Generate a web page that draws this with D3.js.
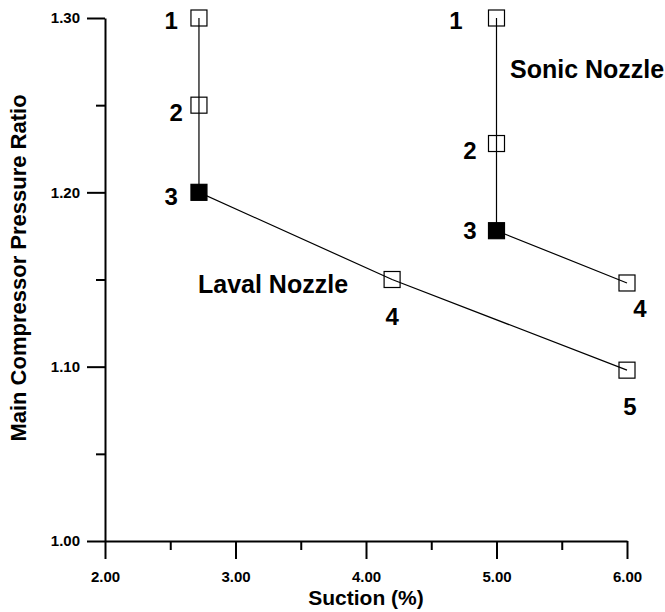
<!DOCTYPE html>
<html>
<head>
<meta charset="utf-8">
<script src="https://cdn.jsdelivr.net/npm/d3@7"></script>
<style>
  body { margin: 0; background: #fff; }
  text { font-family: "Liberation Sans", Arial, sans-serif; font-weight: bold; fill: #000; }
</style>
</head>
<body>
<div class="canvas-graph"></div>
<script>
// data
const lavalSuction = [2.72, 2.72, 2.72, 4.2, 6.0];
const lavalRatio = [1.30, 1.25, 1.20, 1.15, 1.098];
const lavalLabels = ['1', '2', '3', '4', '5'];

const sonicSuction = [5.0, 5.0, 5.0, 6.0];
const sonicRatio = [1.30, 1.228, 1.178, 1.148];
const sonicLabels = ['1', '2', '3', '4'];

const filledPoint = '3';

const xMajor = [2, 3, 4, 5, 6];
const xMinor = [2.5, 3.5, 4.5, 5.5];
const yMajor = [1.0, 1.1, 1.2, 1.3];
const yMinor = [1.05, 1.15, 1.25];

const dims = { width: 665, height: 612 };
const margin = { left: 105, right: 38, top: 18, bottom: 71 };

const svg = d3.select('.canvas-graph')
    .append('svg')
    .attr('width', dims.width)
    .attr('height', dims.height);

const x = d3.scaleLinear()
    .domain([2, 6])
    .range([margin.left, dims.width - margin.right]);

const y = d3.scaleLinear()
    .domain([1.0, 1.3])
    .range([dims.height - margin.bottom, margin.top]);

const fmt = d3.format('.2f');

// axes
const styleAxis = g => {
    g.attr('font-size', null).attr('font-family', null);
    g.selectAll('path, line').attr('stroke', '#000').attr('stroke-width', 2);
    g.selectAll('text').style('font-size', '15px');
};

svg.append('g')
    .attr('transform', `translate(${margin.left}, 0)`)
    .call(d3.axisLeft(y).tickValues(yMajor).tickSize(18).tickSizeOuter(0).tickPadding(7).tickFormat(fmt))
    .call(styleAxis);

svg.append('g')
    .attr('transform', `translate(${margin.left}, 0)`)
    .call(d3.axisLeft(y).tickValues(yMinor).tickSize(9).tickSizeOuter(0).tickFormat(''))
    .call(styleAxis)
    .select('.domain').remove();

svg.append('g')
    .attr('transform', `translate(0, ${y(1.0)})`)
    .call(d3.axisBottom(x).tickValues(xMajor).tickSize(18).tickSizeOuter(0).tickPadding(12).tickFormat(fmt))
    .call(styleAxis);

svg.append('g')
    .attr('transform', `translate(0, ${y(1.0)})`)
    .call(d3.axisBottom(x).tickValues(xMinor).tickSize(9).tickSizeOuter(0).tickFormat(''))
    .call(styleAxis)
    .select('.domain').remove();

// axis titles
svg.append('text')
    .attr('x', 366)
    .attr('y', 605)
    .attr('text-anchor', 'middle')
    .style('font-size', '21px')
    .text('Suction (%)');

svg.append('text')
    .attr('transform', `translate(26, 268) rotate(-90)`)
    .attr('text-anchor', 'middle')
    .style('font-size', '22px')
    .text('Main Compressor Pressure Ratio');

// series
const line = d3.line().x(d => x(d.s)).y(d => y(d.r));
const series = [
    { name: 'laval', pts: lavalSuction.map((s, i) => ({ s, r: lavalRatio[i], label: lavalLabels[i] })) },
    { name: 'sonic', pts: sonicSuction.map((s, i) => ({ s, r: sonicRatio[i], label: sonicLabels[i] })) }
];

// label offsets (dx, dy of baseline, anchor) per series
const labelOffsets = {
    laval: [[-21, 11, 'end'], [-16, 16, 'end'], [-21, 13, 'end'], [0, 45, 'middle'], [3, 45, 'middle']],
    sonic: [[-34, 11, 'end'], [-20, 15, 'end'], [-20, 8, 'end'], [13, 34, 'middle']]
};

const sq = 16;
series.forEach(sr => {
    svg.append('path')
        .datum(sr.pts)
        .attr('d', line)
        .attr('fill', 'none')
        .attr('stroke', '#000')
        .attr('stroke-width', 1.2);

    svg.selectAll(`rect.${sr.name}`)
        .data(sr.pts)
        .enter()
        .append('rect')
        .attr('class', sr.name)
        .attr('x', d => x(d.s) - sq / 2)
        .attr('y', d => y(d.r) - sq / 2)
        .attr('width', sq)
        .attr('height', sq)
        .attr('fill', d => d.label === filledPoint ? '#000' : 'none')
        .attr('stroke', '#000')
        .attr('stroke-width', 1.2);

    svg.selectAll(`text.${sr.name}`)
        .data(sr.pts)
        .enter()
        .append('text')
        .attr('class', sr.name)
        .attr('x', (d, i) => x(d.s) + labelOffsets[sr.name][i][0])
        .attr('y', (d, i) => y(d.r) + labelOffsets[sr.name][i][1])
        .attr('text-anchor', (d, i) => labelOffsets[sr.name][i][2])
        .style('font-size', '24px')
        .text(d => d.label);
});

// series names
svg.append('text')
    .attr('x', 510)
    .attr('y', 78)
    .style('font-size', '25px')
    .text('Sonic Nozzle');

svg.append('text')
    .attr('x', 198)
    .attr('y', 293)
    .style('font-size', '25px')
    .text('Laval Nozzle');
</script>
</body>
</html>
